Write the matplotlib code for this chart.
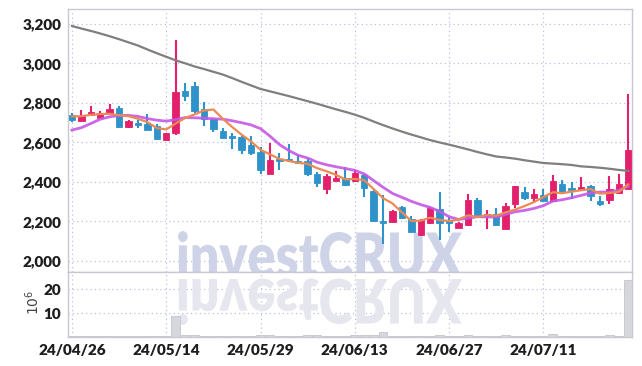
import matplotlib
matplotlib.use("Agg")
import matplotlib.pyplot as plt
import numpy as np
from matplotlib.textpath import TextPath
from matplotlib.patches import PathPatch
from matplotlib.font_manager import FontProperties
from matplotlib.transforms import Affine2D, IdentityTransform

# daily prices, 24/04/26 .. 24/07/24
opens = [2740, 2711, 2740, 2726, 2750, 2776, 2680, 2699, 2694, 2684,
         2614, 2648, 2863, 2888, 2772, 2718, 2657, 2629, 2627, 2586,
         2551, 2441, 2512, 2517, 2504, 2505, 2441, 2365, 2405, 2421,
         2403, 2437, 2353, 2203, 2198, 2275, 2210, 2132, 2192, 2263,
         2207, 2169, 2181, 2310, 2230, 2236, 2164, 2290, 2349, 2320,
         2336, 2303, 2390, 2369, 2358, 2378, 2303, 2310, 2344, 2366]
highs = [2750, 2764, 2786, 2757, 2795, 2786, 2715, 2716, 2745, 2696,
         2650, 3118, 2900, 2908, 2803, 2725, 2673, 2646, 2632, 2632,
         2576, 2595, 2546, 2590, 2539, 2522, 2451, 2438, 2458, 2475,
         2463, 2441, 2364, 2336, 2259, 2278, 2227, 2210, 2275, 2347,
         2225, 2197, 2339, 2317, 2259, 2269, 2295, 2378, 2376, 2366,
         2363, 2437, 2412, 2398, 2427, 2383, 2327, 2432, 2439, 2846]
lows = [2706, 2709, 2735, 2723, 2748, 2672, 2672, 2675, 2665, 2615,
        2612, 2640, 2811, 2750, 2682, 2653, 2617, 2569, 2541, 2535,
        2438, 2438, 2463, 2502, 2492, 2429, 2375, 2341, 2404, 2379,
        2398, 2325, 2195, 2087, 2193, 2212, 2146, 2127, 2187, 2105,
        2149, 2166, 2176, 2224, 2161, 2175, 2161, 2270, 2310, 2295,
        2297, 2300, 2341, 2314, 2354, 2303, 2278, 2286, 2340, 2363]
closes = [2713, 2735, 2756, 2750, 2771, 2680, 2708, 2691, 2665, 2619,
          2646, 2857, 2833, 2757, 2718, 2670, 2623, 2624, 2561, 2545,
          2460, 2510, 2507, 2510, 2497, 2438, 2396, 2429, 2419, 2384,
          2447, 2368, 2200, 2191, 2251, 2220, 2149, 2207, 2268, 2192,
          2192, 2193, 2308, 2229, 2237, 2180, 2276, 2378, 2319, 2337,
          2303, 2405, 2351, 2358, 2375, 2331, 2290, 2364, 2390, 2563]
volumes = [0.5, 0.3, 0.5, 0.3, 0.3, 0.5, 0.3, 0.3, 0.5, 0.3,
           0.3, 8.9, 0.8, 0.8, 0.4, 0.4, 0.3, 0.4, 0.4, 0.5,
           0.8, 0.8, 0.3, 0.3, 0.4, 0.7, 0.7, 0.3, 0.3, 0.4,
           0.7, 0.8, 0.7, 1.9, 0.4, 0.3, 0.3, 0.3, 0.4, 0.8,
           0.4, 0.3, 0.8, 0.3, 0.3, 0.4, 0.7, 0.4, 0.3, 0.3,
           0.4, 1.2, 0.4, 0.3, 0.3, 0.3, 0.3, 0.7, 0.3, 23.9]

# moving average lines
ma_short = [2732, 2733, 2740, 2744, 2745, 2738, 2733, 2720, 2703, 2673,
            2666, 2696, 2724, 2742, 2762, 2767, 2720, 2678, 2639, 2605,
            2563, 2540, 2517, 2506, 2497, 2492, 2470, 2454, 2436, 2413,
            2415, 2409, 2364, 2318, 2291, 2246, 2202, 2204, 2219, 2207,
            2202, 2210, 2231, 2223, 2232, 2229, 2246, 2260, 2278, 2298,
            2323, 2348, 2343, 2351, 2358, 2364, 2341, 2344, 2350, 2388]
ma_mid = [2663, 2675, 2696, 2718, 2730, 2737, 2737, 2732, 2721, 2713,
          2708, 2716, 2726, 2725, 2723, 2720, 2718, 2710, 2700, 2689,
          2670, 2632, 2590, 2559, 2535, 2521, 2500, 2487, 2477, 2468,
          2459, 2441, 2407, 2373, 2342, 2322, 2302, 2285, 2271, 2251,
          2224, 2210, 2217, 2224, 2223, 2222, 2236, 2249, 2256, 2266,
          2280, 2303, 2310, 2320, 2332, 2344, 2349, 2349, 2358, 2378]
ma_long = [3190, 3177, 3165, 3152, 3138, 3123, 3107, 3091, 3071, 3052,
           3034, 3016, 3001, 2985, 2972, 2958, 2944, 2926, 2907, 2889,
           2871, 2859, 2847, 2835, 2822, 2809, 2796, 2782, 2768, 2755,
           2741, 2725, 2706, 2688, 2671, 2655, 2640, 2626, 2612, 2600,
           2589, 2577, 2565, 2552, 2540, 2529, 2524, 2518, 2510, 2503,
           2496, 2493, 2490, 2486, 2479, 2476, 2472, 2467, 2461, 2456]

tick_pos = [0, 10, 20, 30, 40, 50]
tick_labels = ["24/04/26", "24/05/14", "24/05/29", "24/06/13", "24/06/27", "24/07/11"]

up_color = "#e3206b"
down_color = "#2f93c9"
grid_color = "#bcc0da"
spine_color = "#c8c8d2"
label_font = ["Lato", "DejaVu Sans"]

W, H = 642, 366
fig = plt.figure(figsize=(W / 100, H / 100), dpi=100)
left, right = 68, 632
ax = fig.add_axes([left / W, (H - 272) / H, (right - left) / W, (272 - 9) / H])
axv = fig.add_axes([left / W, (H - 337) / H, (right - left) / W, (337 - 272) / H], sharex=ax)

x = np.arange(len(closes))
o = np.array(opens)
c = np.array(closes)
colors = [up_color if cc >= oo else down_color for oo, cc in zip(o, c)]

ax.vlines(x, lows, highs, colors=colors, linewidth=1.5, zorder=3)
body_lo = np.minimum(o, c)
body_h = np.maximum(np.abs(c - o), 7)
ax.bar(x, body_h, bottom=body_lo, width=0.68, color=colors, edgecolor=colors,
       linewidth=0.6, zorder=4)

ax.plot(x, ma_long, color="#7f7f7f", linewidth=1.6, zorder=5)
ax.plot(x, ma_mid, color="#c657e6", linewidth=2.0, alpha=0.9, zorder=5)
ax.plot(x, ma_short, color="#ec8a55", linewidth=1.6, zorder=6)

axv.bar(x, volumes, width=0.92, color="#d6d6dd", edgecolor="#c4c4cc", linewidth=0.6, zorder=3)

ax.set_xlim(-0.42, 59.4)
ax.set_ylim(1944, 3276)
axv.set_ylim(0, 27.2)

ax.set_yticks([2000, 2200, 2400, 2600, 2800, 3000, 3200])
ax.set_yticklabels(["2,000", "2,200", "2,400", "2,600", "2,800", "3,000", "3,200"])
axv.set_yticks([10, 20])
axv.set_yticklabels(["10", "20"])
axv.set_xticks(tick_pos)
axv.set_xticklabels(tick_labels)
ax.tick_params(axis="x", which="both", length=0, labelbottom=False)

for a in (ax, axv):
    a.grid(True, color=grid_color, linestyle=(0, (1, 2.5)), linewidth=0.9, zorder=0)
    a.set_axisbelow(True)
    a.tick_params(length=0, pad=5, labelcolor="#1e1e1e")
    for s in a.spines.values():
        s.set_color(spine_color)
        s.set_linewidth(1.0)
    for lab in a.get_yticklabels() + a.get_xticklabels():
        lab.set_family(label_font)
        lab.set_fontweight("heavy")
        lab.set_fontsize(11)

fig.text(33 / W, (H - 302) / H, r"$10^6$", rotation=90,
         ha="center", va="center", fontsize=10, color="#444444")

# watermark with reflection
wm_prop = FontProperties(family=["Lato", "DejaVu Sans"], weight="heavy")
tp = TextPath((0, 0), "investCRUX", size=100, prop=wm_prop)
ext = tp.get_extents()
sx = 284 / ext.width
sy = 44 / 72.0
base_y = H - 277
t_main = Affine2D().translate(-ext.x0, 0).scale(sx, sy).translate(178, base_y)
ax.add_patch(PathPatch(t_main.transform_path(tp), facecolor="#cfd3e8", edgecolor="none",
                       transform=IdentityTransform(), clip_on=False, zorder=1))
t_refl = Affine2D().translate(-ext.x0, 0).scale(sx, -sy).translate(178, base_y - 2)
axv.add_patch(PathPatch(t_refl.transform_path(tp), facecolor="#e6e6ef", edgecolor="none",
                        transform=IdentityTransform(), clip_on=False, zorder=1))

fig.savefig("out.png", dpi=100)
